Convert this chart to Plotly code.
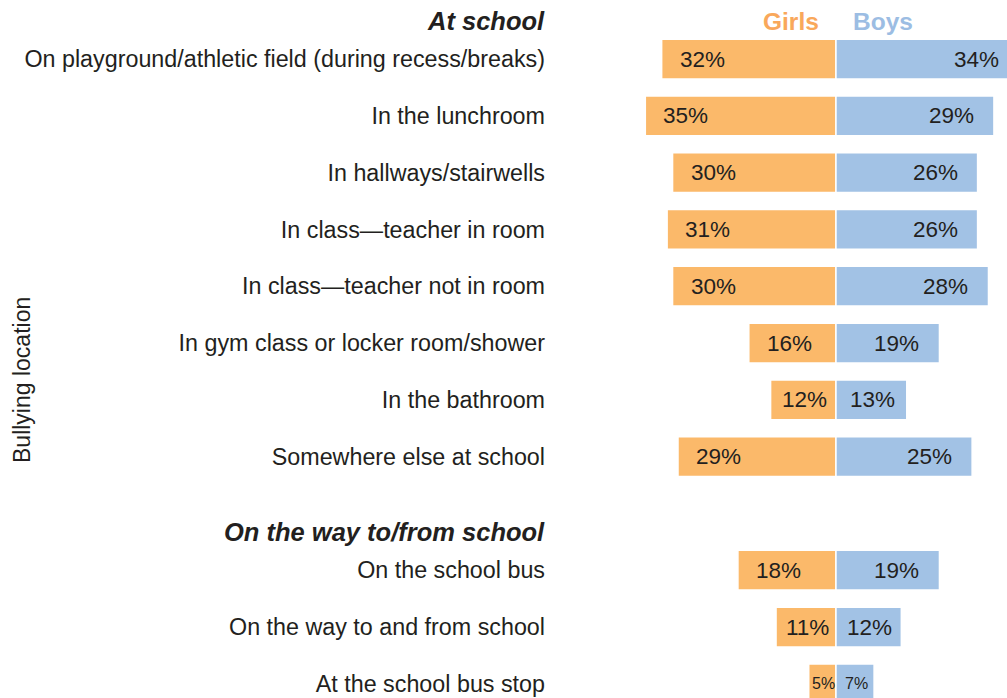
import plotly.graph_objects as go

# ---- data ----
categories = [
    "On playground/athletic field (during recess/breaks)",
    "In the lunchroom",
    "In hallways/stairwells",
    "In class\u2014teacher in room",
    "In class\u2014teacher not in room",
    "In gym class or locker room/shower",
    "In the bathroom",
    "Somewhere else at school",
    "On the school bus",
    "On the way to and from school",
    "At the school bus stop",
]
girls = [32, 35, 30, 31, 30, 16, 12, 29, 18, 11, 5]
boys = [34, 29, 26, 26, 28, 19, 13, 25, 19, 12, 7]
row_pos = [0, 1, 2, 3, 4, 5, 6, 7, 9, 10, 11]
group_titles = ["At school", "On the way to/from school"]
group_first_row = [0, 9]

# ---- style ----
FONT = "Liberation Sans, Arial, Helvetica, sans-serif"
TXT = "#231F20"
ORANGE = "#FBB96A"
BLUE = "#A2C2E5"
ORANGE_T = "#F9A85B"
BLUE_T = "#9CBDE3"
XMIN, XMAX = -52.5, 31.4
W, H = 1007, 698
L = 550

fig = go.Figure()
fig.add_trace(go.Bar(
    y=row_pos, x=[-g for g in girls], orientation="h", width=0.7,
    marker=dict(color=ORANGE, line=dict(color="white", width=1.5)),
    name="Girls", hoverinfo="skip",
))
fig.add_trace(go.Bar(
    y=row_pos, x=boys, orientation="h", width=0.7,
    marker=dict(color=BLUE, line=dict(color="white", width=1.5)),
    name="Boys", hoverinfo="skip",
))

ann = []
for y, g, b in zip(row_pos, girls, boys):
    fs = 16 if g < 10 else 22.5
    if g >= 15:
        ann.append(dict(x=-g, y=y, text=f"{g}%", xanchor="left", xshift=16,
                        showarrow=False, font=dict(size=fs, color=TXT, family=FONT)))
    else:
        ann.append(dict(x=-g / 2, y=y, text=f"{g}%", xanchor="center", xshift=1,
                        showarrow=False, font=dict(size=fs, color=TXT, family=FONT)))
    fs = 16 if b < 10 else 22.5
    if b >= 15:
        bx = min(b, XMAX)
        shift = -18 if b <= XMAX else -6
        ann.append(dict(x=bx, y=y, text=f"{b}%", xanchor="right", xshift=shift,
                        showarrow=False, font=dict(size=fs, color=TXT, family=FONT)))
    else:
        ann.append(dict(x=b / 2, y=y, text=f"{b}%", xanchor="center", xshift=1,
                        showarrow=False, font=dict(size=fs, color=TXT, family=FONT)))

for t, r in zip(group_titles, group_first_row):
    ann.append(dict(x=0, xref="paper", y=r - 0.67, text=f"<b><i>{t}</i></b>",
                    xanchor="right", xshift=-3, showarrow=False,
                    font=dict(size=25.5, color=TXT, family=FONT)))

ann.append(dict(x=0, y=-0.67, text="<b>Girls</b>", xanchor="right", xshift=-15,
                showarrow=False, font=dict(size=24.5, color=ORANGE_T, family=FONT)))
ann.append(dict(x=0, y=-0.67, text="<b>Boys</b>", xanchor="left", xshift=15,
                showarrow=False, font=dict(size=24.5, color=BLUE_T, family=FONT)))
ann.append(dict(x=(22 - L) / (W - L), xref="paper", y=1 - 380 / H, yref="paper",
                text="Bullying location", textangle=-90, showarrow=False,
                xanchor="center", yanchor="middle",
                font=dict(size=23, color=TXT, family=FONT)))

fig.update_layout(
    width=W, height=H,
    margin=dict(l=L, r=0, t=0, b=0),
    paper_bgcolor="white", plot_bgcolor="white",
    barmode="overlay", showlegend=False,
    annotations=ann,
    font=dict(family=FONT, color=TXT),
    xaxis=dict(range=[XMIN, XMAX], visible=False, fixedrange=True),
    yaxis=dict(range=[11.25, -1.04], tickmode="array", tickvals=row_pos,
               ticktext=categories, showgrid=False, zeroline=False,
               showline=False, ticks="", ticklabelstandoff=4,
               tickfont=dict(size=23.3, color=TXT, family=FONT)),
)

fig.write_html(
    "out.html",
    config={"displayModeBar": False},
    post_script="document.body.style.margin='0px';document.body.style.overflow='hidden';",
)
